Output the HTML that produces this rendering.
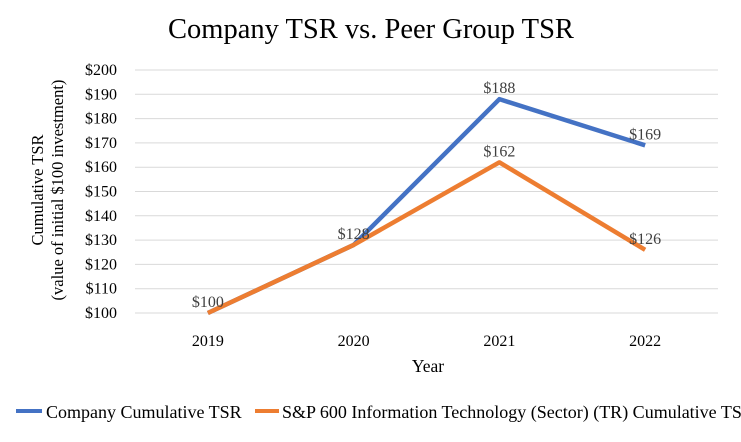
<!DOCTYPE html>
<html><head><meta charset="utf-8"><style>
html,body{margin:0;padding:0;background:#fff;}
svg text{font-family:"Liberation Serif",serif;}
</style></head><body>
<svg id="chart" width="741" height="437" xmlns="http://www.w3.org/2000/svg">
<text x="371" y="38" font-size="28.5" text-anchor="middle" fill="#000">Company TSR vs. Peer Group TSR</text>
<g id="grid"></g>
<g id="yticks"></g>
<g id="xticks"></g>
<g id="series"></g>
<g id="labels"></g>
<text x="428" y="372" font-size="17.5" text-anchor="middle">Year</text>
<g transform="translate(43,190) rotate(-90)">
<text x="0" y="0" font-size="16.5" text-anchor="middle">Cumulative TSR</text>
<text x="0" y="20" font-size="16.5" text-anchor="middle">(value of initial $100 investment)</text>
</g>
<g>
<g>
<rect x="16" y="409" width="26" height="4" fill="#4472C4"/>
<text x="46" y="418" font-size="18">Company Cumulative TSR</text></g>
<g>
<rect x="255" y="409" width="24" height="4" fill="#ED7D31"/>
<text x="282" y="418" font-size="18">S&amp;P 600 Information Technology (Sector) (TR) Cumulative TS</text></g>
</g>
</svg>
<script>
const categories=["2019","2020","2021","2022"];
const companyValues=[100,128,188,169];
const peerValues=[100,128,162,126];
const yTickValues=[100,110,120,130,140,150,160,170,180,190,200];
const companyLabels=[null,null,"$188","$169"];
const peerLabels=["$100","$128","$162","$126"];
const NS="http://www.w3.org/2000/svg";
const x0=135,x1=718,y0=313,y1=70;
function xs(i){return x0+(x1-x0)*(i+0.5)/categories.length;}
function ys(v){return y0-(v-100)/100*(y0-y1);}
function el(t,a,p){const e=document.createElementNS(NS,t);for(const k in a)e.setAttribute(k,a[k]);document.getElementById(p).appendChild(e);return e;}
yTickValues.forEach(v=>{
 const g=el("line",{x1:x0,x2:x1,y1:ys(v),y2:ys(v),stroke:"#d9d9d9","stroke-width":1},"grid");
 
 
 const t=el("text",{x:x0-18,y:ys(v)+5,"font-size":16,"text-anchor":"end"},"yticks");
 t.textContent="$"+v;
 
 
});
categories.forEach((c,i)=>{
 const t=el("text",{x:xs(i),y:346,"font-size":16,"text-anchor":"middle"},"xticks");
 t.textContent=c;
 
 
});
function line(vals,color,name){
 const p=el("polyline",{points:vals.map((v,i)=>xs(i)+","+ys(v)).join(" "),fill:"none",stroke:color,"stroke-width":4.5,"stroke-linejoin":"round"},"series");
 
 
}
line(companyValues,"#4472C4","company-line");
line(peerValues,"#ED7D31","peer-line");
function labels(vals,labs){
 vals.forEach((v,i)=>{ if(!labs[i])return;
  const t=el("text",{x:xs(i),y:ys(v)-6,"font-size":16,"text-anchor":"middle",fill:"#404040"},"labels");
  t.textContent=labs[i];
  
  
 });
}
labels(companyValues,companyLabels);
labels(peerValues,peerLabels);
</script>
</body></html>
